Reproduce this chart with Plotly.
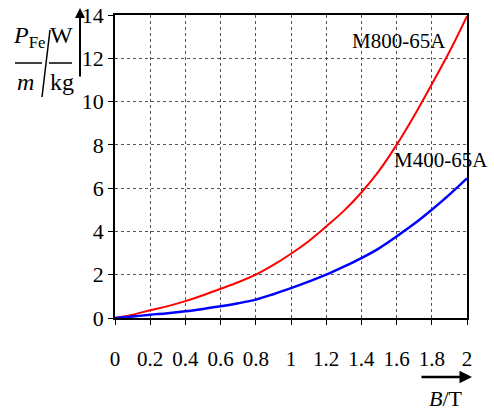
import plotly.graph_objects as go

B = [0, 0.1, 0.2, 0.3, 0.4, 0.5, 0.6, 0.7, 0.8, 0.9, 1.0, 1.1, 1.2, 1.3, 1.4, 1.5, 1.6, 1.7, 1.8, 1.9, 2.0]
p_m800 = [0, 0.15, 0.36, 0.55, 0.78, 1.05, 1.35, 1.65, 2.0, 2.45, 2.97, 3.55, 4.23, 4.95, 5.8, 6.8, 8.0, 9.35, 10.8, 12.3, 13.95]
p_m400 = [0, 0.07, 0.15, 0.22, 0.31, 0.42, 0.54, 0.68, 0.85, 1.1, 1.38, 1.68, 2.0, 2.37, 2.77, 3.22, 3.77, 4.35, 5.0, 5.7, 6.45]
x_ticks = [0, 0.2, 0.4, 0.6, 0.8, 1, 1.2, 1.4, 1.6, 1.8, 2]
x_tick_text = ["0", "0.2", "0.4", "0.6", "0.8", "1", "1.2", "1.4", "1.6", "1.8", "2"]
y_ticks = [0, 2, 4, 6, 8, 10, 12, 14]

W, H = 494, 417
L, R, T, Bm = 115, 27, 15, 99
PW, PH = W - L - R, H - T - Bm

def px(x):
    return (x - L) / PW

def py(y):
    return (H - Bm - y) / PH

FONT = "Liberation Serif"

fig = go.Figure()
fig.add_trace(go.Scatter(x=B, y=p_m800, mode="lines", line=dict(color="#ff0000", width=2, shape="spline"), showlegend=False))
fig.add_trace(go.Scatter(x=B, y=p_m400, mode="lines", line=dict(color="#0000ff", width=2.5, shape="spline"), showlegend=False))

ann = []
def text(x, y, s, size=20, xanchor="center"):
    ann.append(dict(x=px(x), y=py(y), xref="paper", yref="paper", text=s, showarrow=False,
                    font=dict(family=FONT, size=size, color="black"), xanchor=xanchor, yanchor="middle"))

text(399, 41, "M800-65A", 21)
text(441, 160, "M400-65A", 21)
text(446, 398, "<i>B</i>/T", 22)
# y label fraction
text(29, 37, "<i>P</i><sub>Fe</sub>", 24)
text(25, 82, "<i>m</i>", 24)
text(61, 35, "W", 24)
text(62, 82, "kg", 24)

# arrows
ann.append(dict(x=px(80), y=py(8), xref="paper", yref="paper", ax=0, ay=70, axref="pixel", ayref="pixel",
                showarrow=True, arrowhead=2, arrowsize=1, arrowwidth=2, arrowcolor="black", text=""))
ann.append(dict(x=px(472), y=py(377), xref="paper", yref="paper", ax=-52, ay=0, axref="pixel", ayref="pixel",
                showarrow=True, arrowhead=2, arrowsize=1, arrowwidth=2.5, arrowcolor="black", text=""))

shapes = [
    dict(type="line", xref="paper", yref="paper", x0=px(15), x1=px(42), y0=py(63), y1=py(63), line=dict(color="black", width=1.5)),
    dict(type="line", xref="paper", yref="paper", x0=px(49), x1=px(72), y0=py(63), y1=py(63), line=dict(color="black", width=1.5)),
    dict(type="line", xref="paper", yref="paper", x0=px(42), x1=px(50), y0=py(97), y1=py(30), line=dict(color="black", width=1.5)),
]

fig.update_layout(
    width=W, height=H,
    margin=dict(l=L, r=R, t=T, b=Bm, autoexpand=False),
    paper_bgcolor="white", plot_bgcolor="white",
    annotations=ann, shapes=shapes,
    font=dict(family=FONT, size=20, color="black"),
    xaxis=dict(range=[0, 2], tickvals=x_ticks, ticktext=x_tick_text, showgrid=True,
               gridcolor="#555555", griddash="dot", gridwidth=1, showline=True, linecolor="black",
               linewidth=1.5, mirror=True, ticks="outside", ticklen=5, tickcolor="black",
               ticklabelstandoff=16, zeroline=False, automargin=False, tickfont=dict(family=FONT, size=21)),
    yaxis=dict(range=[0, 14], tickvals=y_ticks, showgrid=True,
               gridcolor="#555555", griddash="dot", gridwidth=1, showline=True, linecolor="black",
               linewidth=1.5, mirror=True, ticks="outside", ticklen=5, tickcolor="black",
               zeroline=False, automargin=False, tickfont=dict(family=FONT, size=22)),
)

fig.write_html("out.html", config={"displayModeBar": False},
               post_script="document.body.style.margin='0';document.body.style.padding='0';")
